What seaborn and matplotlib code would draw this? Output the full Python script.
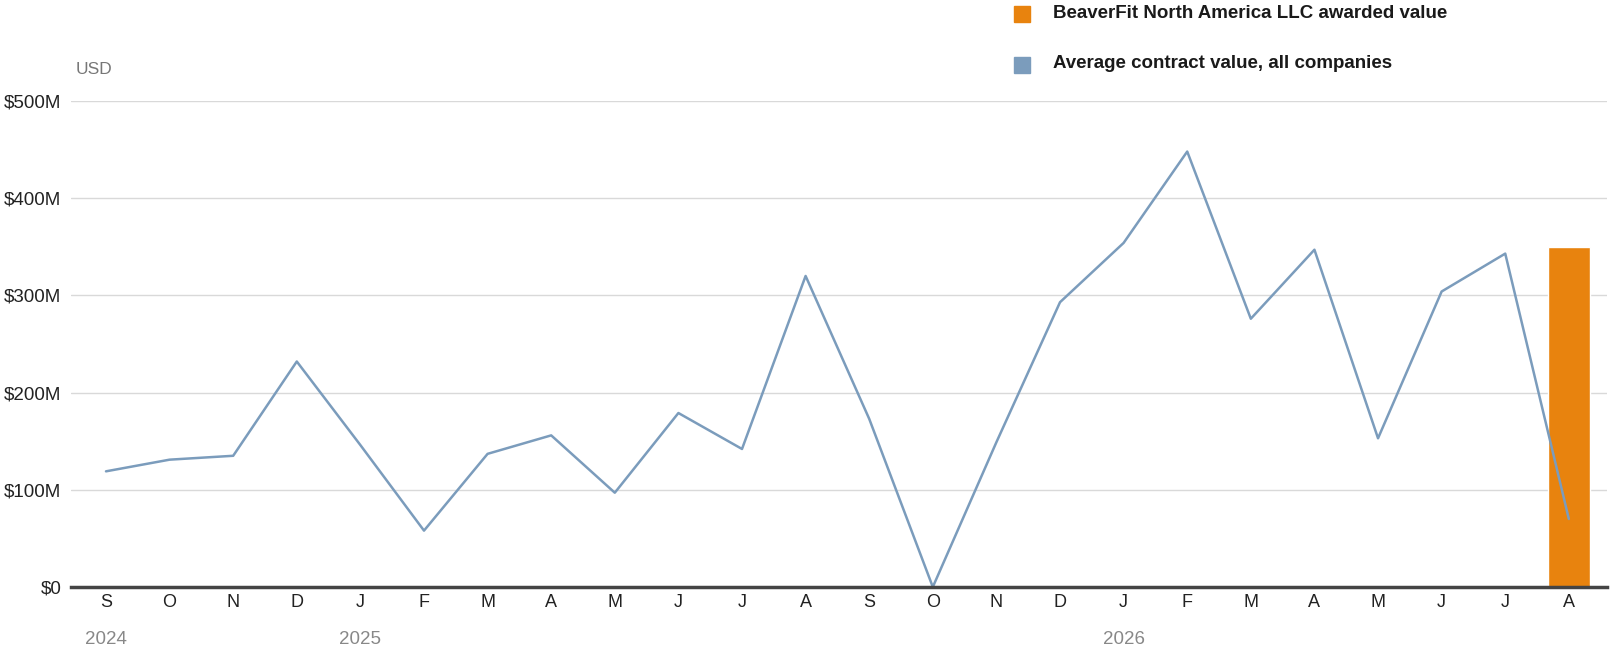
import matplotlib
matplotlib.use("Agg")
import matplotlib.pyplot as plt
import matplotlib.patches as mpatches
import matplotlib.transforms as mtransforms
import seaborn as sns
import pandas as pd

# monthly data, Sep 2024 .. Aug 2026 (values in $M)
months = ["S", "O", "N", "D", "J", "F", "M", "A", "M", "J", "J", "A",
          "S", "O", "N", "D", "J", "F", "M", "A", "M", "J", "J", "A"]
avg_value = [119, 131, 135, 232, 146, 58, 137, 156, 97, 179, 142, 320,
             173, 0, 149, 293, 354, 448, 276, 347, 153, 304, 343, 70]
beaverfit_value = [0, 0, 0, 0, 0, 0, 0, 0, 0, 0, 0, 0,
                   0, 0, 0, 0, 0, 0, 0, 0, 0, 0, 0, 350]
year_labels = ["2024", "2025", "2026"]
year_pos = [0, 4, 16]
y_ticks = [0, 100, 200, 300, 400, 500]
y_ticklabels = ["$0", "$100M", "$200M", "$300M", "$400M", "$500M"]

line_color = "#7b9cbc"
bar_color = "#e8830e"

df = pd.DataFrame({"idx": range(len(months)), "avg": avg_value, "bf": beaverfit_value})

sns.set_style("white")
plt.rcParams["font.family"] = ["Liberation Sans", "DejaVu Sans"]

W, H = 1610, 656
fig = plt.figure(figsize=(W / 100, H / 100), dpi=100)
ax = fig.add_axes([71 / W, 1 - 587 / H, (1607 - 71) / W, (587 - 101) / H])

bars = df[df["bf"] > 0]
ax.bar(bars["idx"], bars["bf"], width=0.65, color=bar_color, zorder=2)
sns.lineplot(data=df, x="idx", y="avg", color=line_color, linewidth=1.8, ax=ax, zorder=3)

ax.set_xlim(-0.55, 23.6)
ax.set_ylim(0, 500)
ax.set_yticks(y_ticks)
ax.set_yticklabels(y_ticklabels, fontsize=13.5, color="#222222")
ax.set_xticks(df["idx"])
ax.set_xticklabels(months, fontsize=13, color="#222222")
ax.tick_params(axis="both", length=0)
ax.tick_params(axis="y", pad=7)
ax.tick_params(axis="x", pad=5)
ax.set_xlabel("")
ax.set_ylabel("")
ax.grid(axis="y", color="#d9d9d9", linewidth=1)
ax.set_axisbelow(True)
for s in ["top", "right", "left"]:
    ax.spines[s].set_visible(False)
ax.spines["bottom"].set_color("#444444")
ax.spines["bottom"].set_linewidth(2.5)
ax.spines["bottom"].set_zorder(4)

# year labels under the month ticks
trans = mtransforms.blended_transform_factory(ax.transData, fig.transFigure)
for lab, pos in zip(year_labels, year_pos):
    ax.text(pos, 1 - 639 / H, lab, transform=trans, ha="center", va="center",
            fontsize=13.5, color="#888888")

fig.text(76 / W, 1 - 70 / H, "USD", fontsize=12.5, color="#777777", va="center", ha="left")

# legend
legend_items = [("BeaverFit North America LLC awarded value", bar_color, 14),
                ("Average contract value, all companies", line_color, 65)]
for text, col, yc in legend_items:
    fig.patches.append(mpatches.Rectangle((1014 / W, 1 - (yc + 8) / H), 16 / W, 16 / H,
                                          transform=fig.transFigure, color=col))
    fig.text(1053 / W, 1 - (yc - 1) / H, text, fontsize=13.5, fontweight="heavy",
             color="#1a1a1a", va="center", ha="left")

fig.savefig("out.png", dpi=100)
